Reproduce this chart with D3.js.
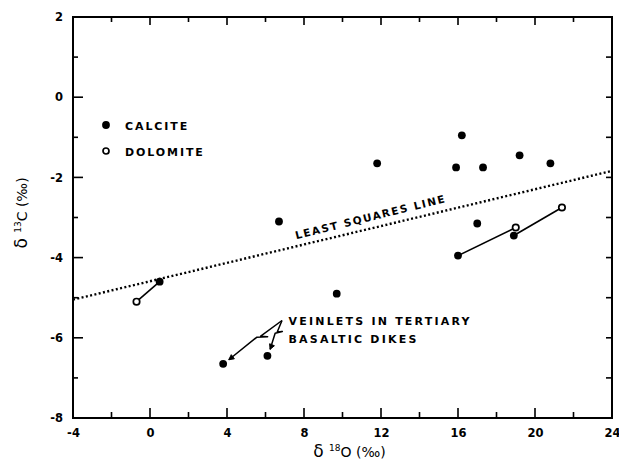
<!DOCTYPE html>
<html>
<head>
<meta charset="utf-8">
<script src="https://cdn.jsdelivr.net/npm/d3@7"></script>
</head>
<body style="margin:0">
<svg width="619" height="475"></svg>
<script>
// calcite samples: d18O and d13C (per mil)
var calciteO = [0.5, 3.8, 6.1, 6.7, 9.7, 11.8, 15.9, 16.2, 17.3, 19.2, 20.8, 17.0, 16.0, 18.9];
var calciteC = [-4.6, -6.65, -6.45, -3.1, -4.9, -1.65, -1.75, -0.95, -1.75, -1.45, -1.65, -3.15, -3.95, -3.45];
// dolomite samples
var dolomiteO = [-0.7, 19.0, 21.4];
var dolomiteC = [-5.1, -3.25, -2.75];
// tie lines: [calcite index, dolomite index]
var tiePairs = [[0, 0], [12, 1], [13, 2]];
// least squares line
var lsqIntercept = -4.59;
var lsqSlope = 0.1147;
// axis ticks
var xMajor = [-4, 0, 4, 8, 12, 16, 20, 24];
var xMinor = [-2, 2, 6, 10, 14, 18, 22];
var yMajor = [2, 0, -2, -4, -6, -8];
var yMinor = [1, -1, -3, -5, -7];
var yRight = [1, 0, -1, -2, -3, -4, -5, -6, -7];
// the two basaltic dike veinlets
var veinletIdx = [1, 2];

var FONT = '"DejaVu Sans", sans-serif';
var svg = d3.select('svg');
var plotL = 73, plotT = 17, plotR = 612, plotB = 418;

var x = d3.scaleLinear().domain([-4, 24]).range([plotL, plotR]);
var y = d3.scaleLinear().domain([-8, 2]).range([plotB, plotT]);

var calcite = calciteO.map((o, i) => ({ o: o, c: calciteC[i] }));
var dolomite = dolomiteO.map((o, i) => ({ o: o, c: dolomiteC[i] }));

function label(sel, size, spacing) {
  return sel.attr('font-family', FONT).attr('font-weight', 'bold').attr('fill', '#000')
    .attr('font-size', size).attr('letter-spacing', spacing);
}

// frame drawn as filled bars
var fw = 2;
var frameBars = [
  [x(-4) - 1, y(2) - 1, x(24) - x(-4) + fw, fw],
  [x(-4) - 1, y(-8) - 1, x(24) - x(-4) + fw, fw],
  [x(-4) - 1, y(2) - 1, fw, y(-8) - y(2) + fw],
  [x(24) - 1, y(2) - 1, fw, y(-8) - y(2) + fw]
];
svg.append('g').selectAll('rect')
  .data(frameBars)
  .enter().append('rect')
  .attr('x', d => d[0]).attr('y', d => d[1])
  .attr('width', d => d[2]).attr('height', d => d[3])
  .attr('fill', '#000');

// inward ticks drawn as filled bars
var tw = 1.6;
function ticksX(vals, yPos, len) {
  svg.append('g').selectAll('rect')
    .data(vals)
    .enter().append('rect')
    .attr('x', d => x(d) - tw / 2).attr('width', tw)
    .attr('y', len < 0 ? yPos + len : yPos).attr('height', Math.abs(len))
    .attr('fill', '#000');
}
function ticksY(vals, xPos, len) {
  svg.append('g').selectAll('rect')
    .data(vals)
    .enter().append('rect')
    .attr('y', d => y(d) - tw / 2).attr('height', tw)
    .attr('x', len < 0 ? xPos + len : xPos).attr('width', Math.abs(len))
    .attr('fill', '#000');
}
ticksX(xMajor, plotB, -10);
ticksX(xMinor, plotB, -6);
ticksX(xMajor, plotT, 8);
ticksX(xMinor, plotT, 5);
ticksY(yMajor, plotL, 10);
ticksY(yMinor, plotL, 5);
ticksY(yRight, plotR, -6);

// tick labels through d3 axes (lines removed)
function styleAxis(g) {
  g.select('.domain').remove();
  g.selectAll('.tick line').remove();
  g.selectAll('text').attr('font-size', 11.5).attr('fill', '#000')
    .attr('font-family', FONT).attr('font-weight', 'bold');
}
svg.append('g')
  .attr('transform', `translate(0, ${plotB})`)
  .call(d3.axisBottom(x).tickValues(xMajor).tickSize(0).tickPadding(11).tickFormat(d => String(d)))
  .call(styleAxis);
svg.append('g')
  .attr('transform', `translate(${plotL}, 0)`)
  .call(d3.axisLeft(y).tickValues(yMajor).tickSize(0).tickPadding(10).tickFormat(d => String(d)))
  .call(styleAxis);

// least squares line
svg.append('line')
  .attr('x1', x(-4)).attr('y1', y(lsqIntercept + lsqSlope * -4))
  .attr('x2', x(24)).attr('y2', y(lsqIntercept + lsqSlope * 24))
  .attr('stroke', '#000').attr('stroke-width', 2.4)
  .attr('stroke-dasharray', '2,2.4');

var angle = Math.atan2(y(lsqIntercept + lsqSlope * 24) - y(lsqIntercept + lsqSlope * -4), x(24) - x(-4)) * 180 / Math.PI;
var lx = 7.6, lxPx = x(lx), lyPx = y(lsqIntercept + lsqSlope * lx) - 7;
svg.append('text')
  .attr('transform', `translate(${lxPx}, ${lyPx}) rotate(${angle - 0.5})`)
  .call(label, 10.5, 1.6)
  .text('LEAST SQUARES LINE');

// tie lines
svg.selectAll('.tie')
  .data(tiePairs)
  .enter().append('line')
  .attr('class', 'tie')
  .attr('x1', p => x(calcite[p[0]].o)).attr('y1', p => y(calcite[p[0]].c))
  .attr('x2', p => x(dolomite[p[1]].o)).attr('y2', p => y(dolomite[p[1]].c))
  .attr('stroke', '#000').attr('stroke-width', 1.6);

// points
svg.selectAll('.calcite')
  .data(calcite)
  .enter().append('circle')
  .attr('class', 'calcite')
  .attr('cx', d => x(d.o)).attr('cy', d => y(d.c))
  .attr('r', 3.9).attr('fill', '#000');

svg.selectAll('.dolomite')
  .data(dolomite)
  .enter().append('circle')
  .attr('class', 'dolomite')
  .attr('cx', d => x(d.o)).attr('cy', d => y(d.c))
  .attr('r', 3.2).attr('fill', '#fff').attr('stroke', '#000').attr('stroke-width', 1.7);

// legend
var legend = svg.append('g').attr('transform', 'translate(106, 125)');
legend.append('circle').attr('r', 3.9).attr('fill', '#000');
legend.append('circle').attr('cy', 26).attr('r', 3).attr('fill', '#fff').attr('stroke', '#000').attr('stroke-width', 1.7);
legend.append('text').attr('x', 19).attr('y', 4.5).call(label, 11, 1.9).text('CALCITE');
legend.append('text').attr('x', 19).attr('y', 30.5).call(label, 11, 1.9).text('DOLOMITE');

// veinlet annotation
var noteX = 288.5, noteY = 325;
svg.append('text').attr('x', noteX).attr('y', noteY)
  .call(label, 11, 2.2).text('VEINLETS IN TERTIARY');
svg.append('text').attr('x', noteX).attr('y', noteY + 18)
  .call(label, 11, 2.2).text('BASALTIC DIKES');

var start = [282, 320.5];
veinletIdx.forEach(function (i) {
  var tx = x(calcite[i].o), ty = y(calcite[i].c);
  var dx = start[0] - tx, dy = start[1] - ty, len = Math.hypot(dx, dy);
  var ux = dx / len, uy = dy / len;      // from point toward label
  var px = -uy, py = ux;                 // perpendicular
  var tip = [tx + ux * 7, ty + uy * 7];
  var at = f => [tip[0] + (start[0] - tip[0]) * f, tip[1] + (start[1] - tip[1]) * f];
  var a = at(0.6), b = at(0.68), c = at(0.54);
  var pts = [start, a, [b[0] + px * 4.5, b[1] + py * 4.5], [c[0] - px * 1.5, c[1] - py * 1.5], tip];
  svg.append('path')
    .attr('d', d3.line()(pts))
    .attr('fill', 'none').attr('stroke', '#000').attr('stroke-width', 1.5)
    .attr('stroke-linejoin', 'round');
  // arrow head
  var h = 5, w = 2.6;
  var head = [
    [tip[0] + ux * h + px * w, tip[1] + uy * h + py * w],
    tip,
    [tip[0] + ux * h - px * w, tip[1] + uy * h - py * w]
  ];
  svg.append('path')
    .attr('d', d3.line()(head) + 'Z')
    .attr('fill', '#000').attr('stroke', '#000').attr('stroke-width', 1);
});

// axis titles
var xt = svg.append('text')
  .attr('x', (plotL + plotR) / 2 + 7).attr('y', 457)
  .attr('text-anchor', 'middle').attr('font-family', FONT).attr('fill', '#000');
xt.append('tspan').attr('font-size', 17).text('δ ');
xt.append('tspan').attr('font-size', 9).attr('dy', -6).text('18');
xt.append('tspan').attr('font-size', 14).attr('dy', 6).text('O (‰)');

var yt = svg.append('text')
  .attr('transform', `translate(27, 213) rotate(-90)`)
  .attr('text-anchor', 'middle').attr('font-family', FONT).attr('fill', '#000');
yt.append('tspan').attr('font-size', 17).text('δ ');
yt.append('tspan').attr('font-size', 9).attr('dy', -6).text('13');
yt.append('tspan').attr('font-size', 14).attr('dy', 6).text('C (‰)');
</script>
</body>
</html>
